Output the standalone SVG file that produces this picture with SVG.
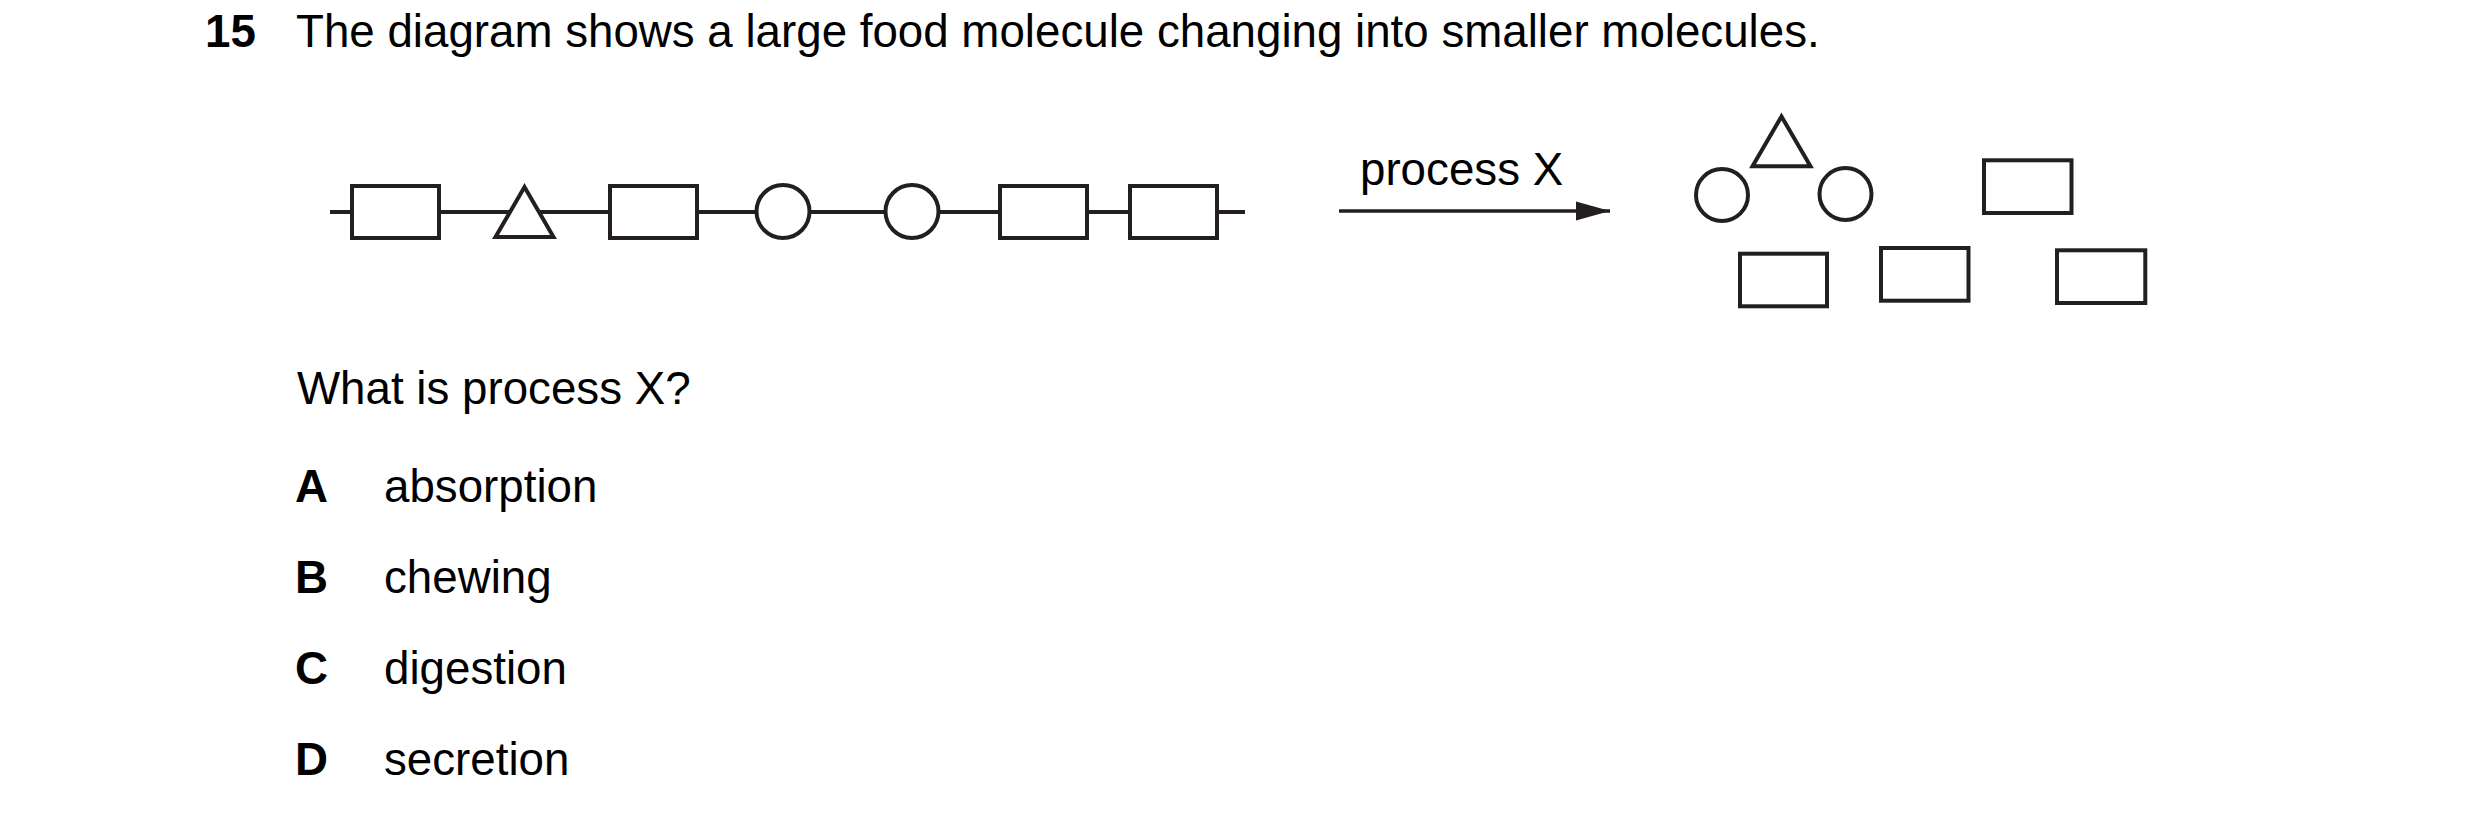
<svg xmlns="http://www.w3.org/2000/svg" width="2480" height="813" viewBox="0 0 2480 813">
  <style>
    .t { font-family: "Liberation Sans", Arial, Helvetica, sans-serif; font-size: 45.7px; fill: #000; }
    .b { font-weight: bold; }
    .shape { fill: #fff; stroke: #231f20; stroke-width: 4; stroke-miterlimit: 10; }
    .conn { fill: none; stroke: #231f20; stroke-width: 4; }
    .arrow { fill: none; stroke: #231f20; stroke-width: 3.5; }
  </style>
  <defs>
    <marker id="ah" markerUnits="userSpaceOnUse" markerWidth="36" markerHeight="22" refX="34" refY="11" orient="auto">
      <path d="M0,1.5 L34,11 L0,20.5 Z" fill="#231f20"/>
    </marker>
  </defs>
  <rect width="2480" height="813" fill="#fff"/>

  <g id="question-text">
    <text class="t b" x="205" y="46.5">15</text>
    <text class="t" x="296" y="46.5">The diagram shows a large food molecule changing into smaller molecules.</text>
  </g>

  <!-- connectors -->
  <g id="connectors">
    <line class="conn" x1="330" y1="212" x2="1245" y2="212"/>
    <line class="arrow" x1="1339" y1="211" x2="1610" y2="211" marker-end="url(#ah)"/>
  </g>

  <!-- large molecule chain -->
  <g id="chain-rect-1"><rect class="shape" x="352" y="186" width="87" height="52"/></g>
  <g id="chain-triangle"><polygon class="shape" points="524.5,187 553.5,237 495.5,237"/></g>
  <g id="chain-rect-2"><rect class="shape" x="610" y="186" width="87" height="52"/></g>
  <g id="chain-circle-1"><circle class="shape" cx="783" cy="211.5" r="26.5"/></g>
  <g id="chain-circle-2"><circle class="shape" cx="912" cy="211.5" r="26.5"/></g>
  <g id="chain-rect-3"><rect class="shape" x="1000" y="186" width="87" height="52"/></g>
  <g id="chain-rect-4"><rect class="shape" x="1130" y="186" width="87" height="52"/></g>

  <g id="process-label">
    <text class="t" x="1360" y="185">process X</text>
  </g>

  <!-- smaller molecules -->
  <g id="small-circle-1"><circle class="shape" cx="1722" cy="195" r="26"/></g>
  <g id="small-triangle"><polygon class="shape" points="1781.5,116.5 1810.5,166.3 1752.5,166.3"/></g>
  <g id="small-circle-2"><circle class="shape" cx="1845.5" cy="194" r="26"/></g>
  <g id="small-rect-top"><rect class="shape" x="1984" y="160.3" width="87.5" height="52.7"/></g>
  <g id="small-rect-bottom-1"><rect class="shape" x="1740" y="253.7" width="87" height="52.6"/></g>
  <g id="small-rect-bottom-2"><rect class="shape" x="1881" y="248" width="87.5" height="52.7"/></g>
  <g id="small-rect-right"><rect class="shape" x="2057" y="250.3" width="88.3" height="52.7"/></g>

  <g id="prompt">
    <text class="t" x="297" y="404">What is process X?</text>
  </g>
  <g id="option-a">
    <text class="t b" x="295" y="502">A</text>
    <text class="t" x="384" y="502">absorption</text>
  </g>
  <g id="option-b">
    <text class="t b" x="295" y="593">B</text>
    <text class="t" x="384" y="593">chewing</text>
  </g>
  <g id="option-c">
    <text class="t b" x="295" y="684">C</text>
    <text class="t" x="384" y="684">digestion</text>
  </g>
  <g id="option-d">
    <text class="t b" x="295" y="775">D</text>
    <text class="t" x="384" y="775">secretion</text>
  </g>
</svg>
